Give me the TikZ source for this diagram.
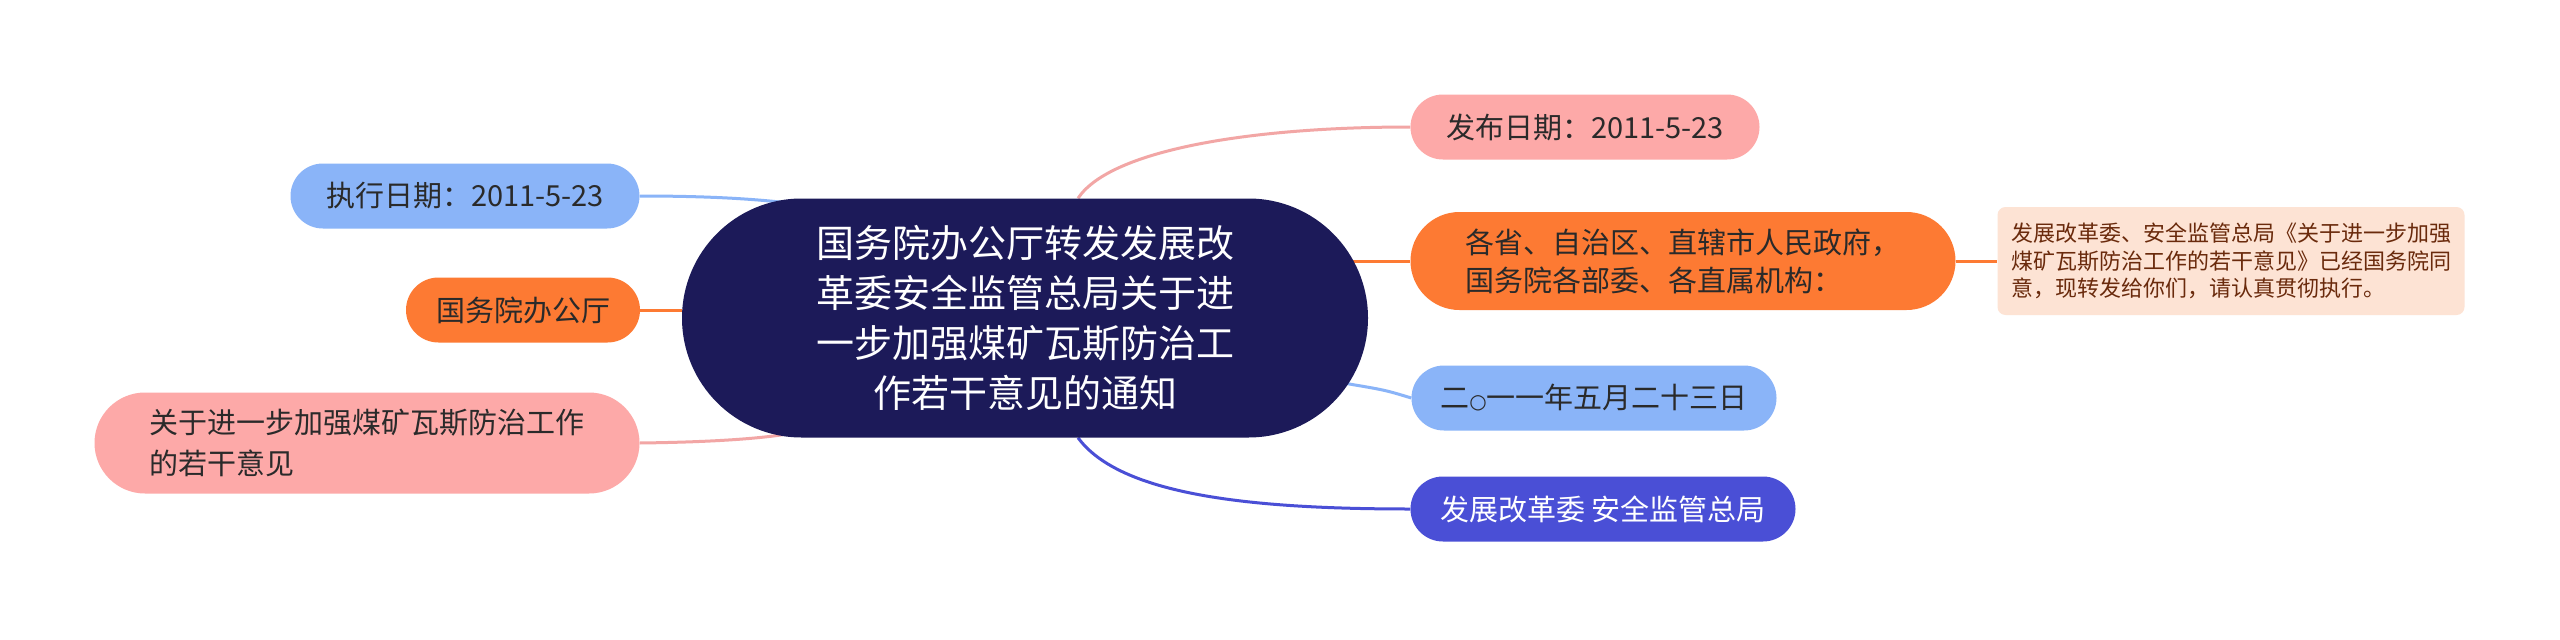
\documentclass[tikz,border=0pt]{standalone}
\usepackage{fontspec}
\newfontfamily\cjk{Noto Sans CJK SC}
\newfontfamily\dejavu{DejaVu Sans}
\usetikzlibrary{backgrounds,calc}
\definecolor{navy}{HTML}{1C1A59}
\definecolor{pinkc}{HTML}{FDA9A8}
\definecolor{pinkl}{HTML}{F2A6A5}
\definecolor{orangec}{HTML}{FD7A33}
\definecolor{bluec}{HTML}{8AB4F8}
\definecolor{dblue}{HTML}{4A4FD6}
\definecolor{peach}{HTML}{FDE3D4}
\definecolor{brownt}{HTML}{6A2A0C}
\definecolor{txt}{HTML}{2A2A2A}
\begin{document}
\begin{tikzpicture}[x=1pt,y=-1pt,
  leaf/.style={rounded corners=32.5pt, minimum height=65pt, inner sep=0pt, text=txt,
    font=\cjk\fontsize{29}{38}\selectfont, align=left},
  leaftwo/.style={leaf, rounded corners=49pt, minimum height=98pt},
  root/.style={fill=navy, text=white, rounded corners=119.5pt, minimum width=686pt,
    minimum height=239pt, inner sep=0pt, align=center, font=\cjk\fontsize{38}{50}\selectfont},
  detail/.style={fill=peach, text=brownt, rounded corners=8pt, minimum width=467pt,
    minimum height=108pt, inner sep=0pt, align=left, font=\cjk\fontsize{22}{27.6}\selectfont},
  edge/.style={line width=3pt}
]
\useasboundingbox (0,0) rectangle (2560,640);

\node[root] (c) at (1025,318) {国务院办公厅转发发展改\\革委安全监管总局关于进\\一步加强煤矿瓦斯防治工\\作若干意见的通知};

\node[leaf, fill=pinkc, minimum width=349pt] (fb) at (1585,127) {发布日期：2011-5-23};
\node[leaftwo, fill=orangec, minimum width=545pt] (gs) at (1683,261) {各省、自治区、直辖市人民政府，\\国务院各部委、各直属机构：};
\node[detail] (dt) at (2231,261) {发展改革委、安全监管总局《关于进一步加强\\煤矿瓦斯防治工作的若干意见》已经国务院同\\意，现转发给你们，请认真贯彻执行。};
\node[leaf, fill=bluec, minimum width=365pt] (rq) at (1594,398) {二{\dejavu\fontsize{20}{20}\selectfont ○}一一年五月二十三日};
\node[leaf, fill=dblue, text=white, minimum width=385pt] (fz) at (1603,509) {发展改革委 安全监管总局};

\node[leaf, fill=bluec, minimum width=349pt] (zx) at (465,196) {执行日期：2011-5-23};
\node[leaf, fill=orangec, minimum width=234pt] (bg) at (523,310) {国务院办公厅};
\node[leaftwo, fill=pinkc, minimum width=545pt, minimum height=101pt, rounded corners=50.5pt, font=\cjk\fontsize{29}{41}\selectfont] (gy) at (367,443) {关于进一步加强煤矿瓦斯防治工作\\的若干意见};

\begin{pgfonlayer}{background}
\fill[white] (0,0) rectangle (2560,640);
\draw[edge, pinkl] ([xshift=53pt]c.north) .. controls (1110,150) and (1250,127) .. (fb.west);
\draw[edge, orangec] ($(c.east)+(-20,-57)$) -- (gs.west);
\draw[edge, orangec] (gs.east) -- (dt.west);
\draw[edge, bluec] ($(c.east)+(-25,65)$) .. controls (1385,390) .. (rq.west);
\draw[edge, dblue] ([xshift=53pt]c.south) .. controls (1120,495) and (1250,509) .. (fz.west);
\draw[edge, bluec] (zx.east) .. controls (720,196) and (760,200) .. ($(c.north)+(-242,4)$);
\draw[edge, orangec] (bg.east) -- (bg.east -| c.west);
\draw[edge, pinkl] (gy.east) .. controls (720,442) and (760,438) .. ($(c.south)+(-242,-3)$);
\end{pgfonlayer}
\end{tikzpicture}
\end{document}
